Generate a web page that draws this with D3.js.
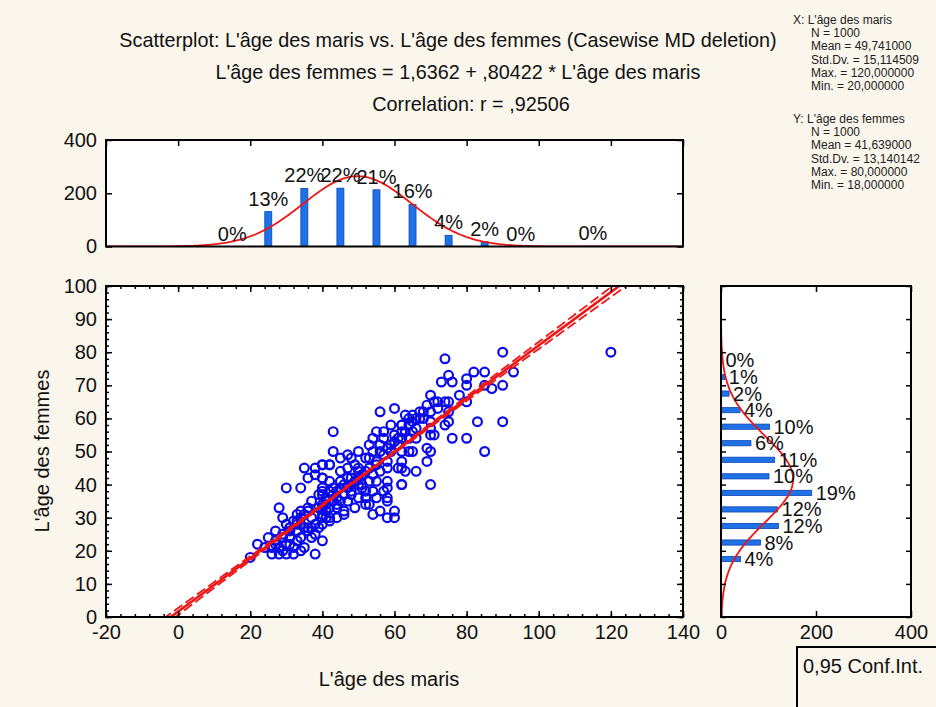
<!DOCTYPE html>
<html><head><meta charset="utf-8">
<script src="https://cdn.jsdelivr.net/npm/d3@7"></script>
<style>
body{margin:0;background:#faf6ec;}
svg{display:block;font-family:"Liberation Sans",Arial,Helvetica,sans-serif;}
</style>
</head><body>
<svg id="c" width="936" height="707"></svg>
<script>
// ---------------- DATA ----------------
const titleLines = [
  "Scatterplot: L'âge des maris vs. L'âge des femmes (Casewise MD deletion)",
  "L'âge des femmes = 1,6362 + ,80422 * L'âge des maris",
  "Correlation: r = ,92506"
];
const xVarName = "L'âge des maris";
const yVarName = "L'âge des femmes";
const xStatLines = ["X:  L'âge des maris","N = 1000","Mean = 49,741000","Std.Dv. = 15,114509","Max. = 120,000000","Min. = 20,000000"];
const yStatLines = ["Y:  L'âge des femmes","N = 1000","Mean = 41,639000","Std.Dv. = 13,140142","Max. = 80,000000","Min. = 18,000000"];
const legendText = ["0,95 Conf.Int."];

const nObs = 1000;
const xMean = 49.741, xSD = 15.114509;
const yMean = 41.639, ySD = 13.140142;
const rCorr = 0.92506;
const regIntercept = 1.6362, regSlope = 0.80422;

const scatterXTicks = [-20,0,20,40,60,80,100,120,140];
const scatterYTicks = [0,10,20,30,40,50,60,70,80,90,100];
const histCountTicks = [0,200,400];

// top histogram (L'âge des maris), bin width 10
const xHistCenters = [15,25,35,45,55,65,75,85,95,115];
const xHistCounts  = [0,131,218,219,213,158,42,18,0,1];
const xHistWidth = 10;
// right histogram (L'âge des femmes), bin width 5
const yHistCenters = [17.5,22.5,27.5,32.5,37.5,42.5,47.5,52.5,57.5,62.5,67.5,72.5,77.5];
const yHistCounts  = [41,83,121,119,191,101,113,63,102,40,17,8,1];
const yHistWidth = 5;

// scatter points [husband age, wife age]
const ageMaris = [35,38,40,42,30,34,40,40,39,40,42,37,40,41,39,41,36,34,33,34,37,40,42,30,32,34,31,33,35,27,25,27,29,31,34,37,26,28,30,32,35,26,28,30,32,34,22,20,38,40,
  43,59,62,64,55,57,54,57,60,62,53,56,58,61,54,56,59,62,64,50,48,52,53,55,58,62,40,42,45,47,49,50,40,42,45,47,50,52,54,56,58,61,63,53,55,58,50,48,45,43,40,58,62,52,54,57,50,52,55,58,44,47,41,40,44,46,49,52,53,58,56,60,54,58,60,40,41,40,42,
  74,90,75,73,76,82,85,80,80,85,87,90,93,78,80,70,69,71,72,74,75,70,75,65,65,64,62,62,64,66,66,70,70,70,71,74,75,83,90,76,80,85,65,69,70,69,62,66,62,70,120,
  36,38,33,31,29,28,44,46,48,51,45,47,36,38,43,56,60,63,66,67,68,72,
  44,46,48,46,48,50,51,43,45,47,49,51,53,55,57,59,60,61,63,65,67,68,36,35,33,31,29,27,24,29,31,33,36,38,39,37,43,44,42,41];
const ageFemmes = [45,45,46,46,39,39,42,39,37,37,38,35,34,34,33,32,32,32,31,30,30,30,30,28,29,28,26,26,27,26,24,23,24,24,24,24,21,21,22,21,21,19,19,19,19,20,22,18,19,23,
  56,58,58,60,56,56,54,54,55,56,52,52,51,52,50,50,50,50,50,50,48,48,48,47,47,47,46,46,44,45,46,45,42,41,41,42,44,44,43,44,45,45,44,41,41,41,40,40,39,39,38,39,40,38,38,38,36,36,36,36,36,35,35,33,33,32,33,34,34,35,32,32,31,30,30,31,30,28,29,
  78,80,73,71,71,74,74,72,70,70,69,70,74,67,65,67,64,65,65,65,65,62,62,61,59,58,58,54,54,57,54,59,57,55,55,58,59,59,59,54,54,50,50,51,50,47,45,44,40,40,80,
  27,25,28,27,30,33,30,31,37,40,48,49,42,43,50,62,63,61,60,62,60,63,
  38,40,42,37,38,42,43,37,35,39,41,39,45,46,49,52,53,54,56,56,60,62,33,31,29,27,25,22,21,20,22,23,26,28,27,27,35,34,33,36];

// ---------------- DRAW ----------------
const svg = d3.select("#c");
svg.append("rect").attr("width",936).attr("height",707).attr("fill","#faf6ec");

const SC = {l:106, r:683, t:286, b:617};
const TH = {l:106, r:683, t:140, b:246.5};
const RH = {l:721, r:911, t:286, b:617};

const x  = d3.scaleLinear().domain([-20,140]).range([SC.l, SC.r]);
const y  = d3.scaleLinear().domain([0,100]).range([SC.b, SC.t]);
const yT = d3.scaleLinear().domain([0,400]).range([TH.b, TH.t]);
const xR = d3.scaleLinear().domain([0,400]).range([RH.l, RH.r]);

const RED = "#ee1515", BLUE = "#0b0bea", BAR = "#1f72e6", BAREDGE = "#0b45b5";
const FS = 20;
const fmt = d => String(d);

[SC,TH,RH].forEach(p => svg.append("rect").attr("x",p.l).attr("y",p.t)
  .attr("width",p.r-p.l).attr("height",p.b-p.t).attr("fill","#ffffff"));

function pdf(v,m,s){ return Math.exp(-0.5*((v-m)/s)**2)/(s*Math.sqrt(2*Math.PI)); }

const defs = svg.append("defs");
defs.append("clipPath").attr("id","clipS").append("rect").attr("x",SC.l).attr("y",SC.t).attr("width",SC.r-SC.l).attr("height",SC.b-SC.t);
defs.append("clipPath").attr("id","clipT").append("rect").attr("x",TH.l).attr("y",TH.t).attr("width",TH.r-TH.l).attr("height",TH.b-TH.t);
defs.append("clipPath").attr("id","clipR").append("rect").attr("x",RH.l).attr("y",RH.t).attr("width",RH.r-RH.l).attr("height",RH.b-RH.t);

function styleAxis(g, showText){
  g.select(".domain").remove();
  g.selectAll(".tick line").attr("stroke","#000").attr("stroke-width",1.5);
  g.selectAll(".tick text").attr("font-size",FS).attr("fill","#111")
    .style("font-family",'"Liberation Sans",Arial,Helvetica,sans-serif');
  if(!showText) g.selectAll(".tick text").remove();
}

// ---- Top histogram ----
const gT = svg.append("g");
gT.append("g").attr("clip-path","url(#clipT)").selectAll("rect").data(xHistCenters).join("rect")
  .attr("x",(d)=>x(d)-3.5).attr("width",7)
  .attr("y",(d,i)=>yT(xHistCounts[i])).attr("height",(d,i)=>yT(0)-yT(xHistCounts[i]))
  .attr("fill",BAR).attr("stroke",BAREDGE).attr("stroke-width",0.8);
const topCurve = d3.range(-20,140.5,0.5).map(v=>[v, nObs*xHistWidth*pdf(v,xMean,xSD)]);
gT.append("path").attr("clip-path","url(#clipT)").datum(topCurve)
  .attr("d",d3.line().x(d=>x(d[0])).y(d=>yT(d[1])))
  .attr("fill","none").attr("stroke",RED).attr("stroke-width",1.8);
gT.selectAll("text.pct").data(xHistCenters).join("text").attr("class","pct")
  .attr("x",d=>x(d)).attr("y",(d,i)=>yT(xHistCounts[i])-6)
  .attr("text-anchor","middle").attr("font-size",FS).attr("fill","#111")
  .text((d,i)=>Math.round(xHistCounts[i]/nObs*100)+"%");
gT.append("g").attr("transform",`translate(${TH.l},0)`)
  .call(d3.axisLeft(yT).tickValues(histCountTicks).tickFormat(fmt).tickSizeInner(-6).tickSizeOuter(0).tickPadding(9))
  .call(g=>styleAxis(g,true));
gT.append("g").attr("transform",`translate(${TH.r},0)`)
  .call(d3.axisRight(yT).tickValues(histCountTicks).tickSizeInner(-6).tickSizeOuter(0))
  .call(g=>styleAxis(g,false));
gT.append("g").attr("transform",`translate(0,${TH.t})`)
  .call(d3.axisTop(x).tickValues(scatterXTicks).tickSizeInner(-6).tickSizeOuter(0))
  .call(g=>styleAxis(g,false));
gT.append("rect").attr("x",TH.l).attr("y",TH.t).attr("width",TH.r-TH.l).attr("height",TH.b-TH.t)
  .attr("fill","none").attr("stroke","#000").attr("stroke-width",2);

// ---- Scatter ----
const gS = svg.append("g");
const pts = ageMaris.map((v,i)=>[v, ageFemmes[i]]);
gS.append("g").attr("clip-path","url(#clipS)").selectAll("circle").data(pts).join("circle")
  .attr("cx",d=>x(d[0])).attr("cy",d=>y(d[1])).attr("r",4.4)
  .attr("fill","none").attr("stroke",BLUE).attr("stroke-width",2.2);

const sRes = ySD*Math.sqrt(1-rCorr*rCorr)*Math.sqrt((nObs-1)/(nObs-2));
const tCrit = 1.962;
const xsLine = d3.range(-20,140.5,0.5);
const se = v => sRes*Math.sqrt(1/nObs + (v-xMean)**2/((nObs-1)*xSD*xSD));
const lineGen = d3.line().x(d=>x(d[0])).y(d=>y(d[1]));
const gL = gS.append("g").attr("clip-path","url(#clipS)");
gL.append("path").datum(xsLine.map(v=>[v, regIntercept+regSlope*v+tCrit*se(v)]))
  .attr("d",lineGen).attr("fill","none").attr("stroke",RED).attr("stroke-width",1.8).attr("stroke-dasharray","10,4");
gL.append("path").datum(xsLine.map(v=>[v, regIntercept+regSlope*v-tCrit*se(v)]))
  .attr("d",lineGen).attr("fill","none").attr("stroke",RED).attr("stroke-width",1.8).attr("stroke-dasharray","10,4");
gL.append("path").datum(xsLine.map(v=>[v, regIntercept+regSlope*v]))
  .attr("d",lineGen).attr("fill","none").attr("stroke",RED).attr("stroke-width",2.6);

gS.append("g").attr("transform",`translate(0,${SC.b})`)
  .call(d3.axisBottom(x).tickValues(d3.range(-20,141,4)).tickSizeInner(-3).tickSizeOuter(0))
  .call(g=>styleAxis(g,false));
gS.append("g").attr("transform",`translate(0,${SC.b})`)
  .call(d3.axisBottom(x).tickValues(scatterXTicks).tickFormat(fmt).tickSizeInner(-6).tickSizeOuter(0).tickPadding(8))
  .call(g=>styleAxis(g,true));
gS.append("g").attr("transform",`translate(0,${SC.t})`)
  .call(d3.axisTop(x).tickValues(d3.range(-20,141,4)).tickSizeInner(-3).tickSizeOuter(0))
  .call(g=>styleAxis(g,false));
gS.append("g").attr("transform",`translate(0,${SC.t})`)
  .call(d3.axisTop(x).tickValues(scatterXTicks).tickSizeInner(-6).tickSizeOuter(0))
  .call(g=>styleAxis(g,false));
gS.append("g").attr("transform",`translate(${SC.l},0)`)
  .call(d3.axisLeft(y).tickValues(d3.range(0,101,2)).tickSizeInner(-3).tickSizeOuter(0))
  .call(g=>styleAxis(g,false));
gS.append("g").attr("transform",`translate(${SC.l},0)`)
  .call(d3.axisLeft(y).tickValues(scatterYTicks).tickFormat(fmt).tickSizeInner(-6).tickSizeOuter(0).tickPadding(9))
  .call(g=>styleAxis(g,true));
gS.append("g").attr("transform",`translate(${SC.r},0)`)
  .call(d3.axisRight(y).tickValues(d3.range(0,101,2)).tickSizeInner(-3).tickSizeOuter(0))
  .call(g=>styleAxis(g,false));
gS.append("g").attr("transform",`translate(${SC.r},0)`)
  .call(d3.axisRight(y).tickValues(scatterYTicks).tickSizeInner(-6).tickSizeOuter(0))
  .call(g=>styleAxis(g,false));
gS.append("rect").attr("x",SC.l).attr("y",SC.t).attr("width",SC.r-SC.l).attr("height",SC.b-SC.t)
  .attr("fill","none").attr("stroke","#000").attr("stroke-width",2);

// ---- Right histogram ----
const gR = svg.append("g");
gR.append("g").attr("clip-path","url(#clipR)").selectAll("rect").data(yHistCenters).join("rect")
  .attr("x",RH.l).attr("width",(d,i)=>xR(yHistCounts[i])-RH.l)
  .attr("y",d=>y(d)-2.6).attr("height",5.2)
  .attr("fill",BAR).attr("stroke",BAREDGE).attr("stroke-width",0.8);
const rightCurve = d3.range(0,100.5,0.5).map(v=>[v, nObs*yHistWidth*pdf(v,yMean,ySD)]);
gR.append("path").attr("clip-path","url(#clipR)").datum(rightCurve)
  .attr("d",d3.line().x(d=>xR(d[1])).y(d=>y(d[0])))
  .attr("fill","none").attr("stroke",RED).attr("stroke-width",1.8);
gR.selectAll("text.pct").data(yHistCenters).join("text").attr("class","pct")
  .attr("x",(d,i)=>xR(yHistCounts[i])+4).attr("y",d=>y(d)).attr("dy","0.35em")
  .attr("font-size",FS).attr("fill","#111")
  .text((d,i)=>Math.round(yHistCounts[i]/nObs*100)+"%");
gR.append("g").attr("transform",`translate(0,${RH.b})`)
  .call(d3.axisBottom(xR).tickValues(histCountTicks).tickFormat(fmt).tickSizeInner(-6).tickSizeOuter(0).tickPadding(8))
  .call(g=>styleAxis(g,true));
gR.append("g").attr("transform",`translate(0,${RH.t})`)
  .call(d3.axisTop(xR).tickValues(histCountTicks).tickSizeInner(-6).tickSizeOuter(0))
  .call(g=>styleAxis(g,false));
gR.append("g").attr("transform",`translate(${RH.l},0)`)
  .call(d3.axisLeft(y).tickValues(scatterYTicks).tickSizeInner(-5).tickSizeOuter(0))
  .call(g=>styleAxis(g,false));
gR.append("g").attr("transform",`translate(${RH.r},0)`)
  .call(d3.axisRight(y).tickValues(scatterYTicks).tickSizeInner(-5).tickSizeOuter(0))
  .call(g=>styleAxis(g,false));
gR.append("rect").attr("x",RH.l).attr("y",RH.t).attr("width",RH.r-RH.l).attr("height",RH.b-RH.t)
  .attr("fill","none").attr("stroke","#000").attr("stroke-width",2);

// ---- Titles ----
const titlePos = [[448,47],[458,79],[471,111]];
svg.selectAll("text.title").data(titleLines).join("text").attr("class","title")
  .attr("x",(d,i)=>titlePos[i][0]).attr("y",(d,i)=>titlePos[i][1])
  .attr("text-anchor","middle").attr("font-size",19.8).attr("fill","#111").text(d=>d);

svg.append("text").attr("x",389).attr("y",686).attr("text-anchor","middle")
  .attr("font-size",FS).attr("fill","#111").text(xVarName);
svg.append("text").attr("transform","translate(49,451) rotate(-90)").attr("text-anchor","middle")
  .attr("font-size",FS).attr("fill","#111").text(yVarName);

// ---- Stats box ----
const gStat = svg.append("g").attr("font-size",12).attr("fill","#222");
xStatLines.forEach((t,i)=>gStat.append("text").attr("x",i===0?793:811).attr("y",24+i*13.2).text(t));
yStatLines.forEach((t,i)=>gStat.append("text").attr("x",i===0?793:811).attr("y",123+i*13.2).text(t));

// ---- Legend box ----
svg.append("path").attr("d","M797,707 L797,647 L940,647").attr("fill","none").attr("stroke","#000").attr("stroke-width",2);
svg.append("text").attr("x",803).attr("y",673).attr("font-size",FS).attr("fill","#111").text(legendText[0]);
</script>
</body></html>
